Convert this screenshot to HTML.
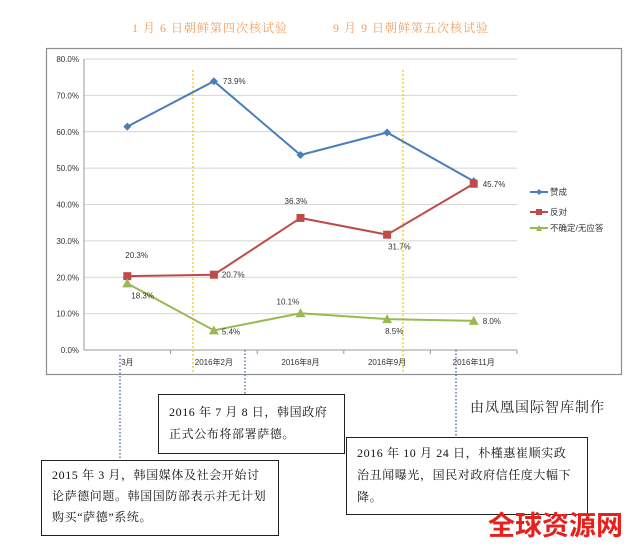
<!DOCTYPE html>
<html><head><meta charset="utf-8"><style>
body{margin:0;background:#fff;}
#wrap{position:relative;width:640px;height:550px;overflow:hidden;font-family:"Liberation Serif","Noto Serif CJK SC",serif;}
.box{position:absolute;border:1px solid #222;background:#fff;font-size:12px;letter-spacing:0.6px;line-height:22px;padding:6px 10px;box-sizing:border-box;color:#111;}
</style></head><body>
<div id="wrap">
<svg id="chart" width="640" height="550" style="position:absolute;left:0;top:0"></svg>
<div class="box" style="left:41px;top:460px;width:238px;height:76px;line-height:21px;padding-top:4px">2015 年 3 月，韩国媒体及社会开始讨论萨德问题。韩国国防部表示并无计划购买“萨德”系统。</div>
<div class="box" style="left:158px;top:394px;width:187px;height:60px;line-height:22px;padding-top:6px">2016 年 7 月 8 日，韩国政府正式公布将部署萨德。</div>
<div class="box" style="left:346px;top:437px;width:242px;height:78px;line-height:22px;padding-top:4px">2016 年 10 月 24 日，朴槿惠崔顺实政治丑闻曝光，国民对政府信任度大幅下降。</div>
<div style="position:absolute;left:470px;top:397px;font-size:14px;letter-spacing:1px;color:#222;white-space:nowrap;">由凤凰国际智库制作</div>
<div style="position:absolute;left:488px;top:506px;font-size:27px;font-weight:bold;color:#e8201c;font-family:'Noto Sans CJK SC',sans-serif;line-height:36px;white-space:nowrap;">全球资源网</div>
</div>
<script>
const categories=["3月","2016年2月","2016年8月","2016年9月","2016年11月"];
const favor=[61.4,73.9,53.6,59.8,46.4];
const oppose=[20.3,20.7,36.3,31.7,45.7];
const unsure=[18.3,5.4,10.1,8.5,8.0];
const yTicks=[0,10,20,30,40,50,60,70,80];
const opposeLabels=["20.3%","20.7%","36.3%","31.7%","45.7%"];
const unsureLabels=["18.3%","5.4%","10.1%","8.5%","8.0%"];
const favorLabels=["","73.9%","","",""];
const NS="http://www.w3.org/2000/svg";
const svg=document.getElementById('chart');
const L=84,R=517,T=59,B=350;
const x=i=>L+(R-L)/categories.length*(i+0.5);
const y=v=>B-(B-T)*v/80;
function mk(t,a,p){const e=document.createElementNS(NS,t);for(const k in a)e.setAttribute(k,a[k]);(p||svg).appendChild(e);return e;}
const frame=mk('rect',{x:46.5,y:48.5,width:575,height:326,fill:'none',stroke:'#8a8f96','stroke-width':1.2});


const t1=mk('text',{x:210,y:32,'text-anchor':'middle','font-size':12,fill:'#f0a060','font-family':'Liberation Serif,Noto Serif CJK SC,serif','letter-spacing':'1'});t1.textContent='1 月 6 日朝鲜第四次核试验';


const t2=mk('text',{x:411,y:32,'text-anchor':'middle','font-size':12,fill:'#f0a060','font-family':'Liberation Serif,Noto Serif CJK SC,serif','letter-spacing':'1'});t2.textContent='9 月 9 日朝鲜第五次核试验';


yTicks.forEach(v=>{
  const g=mk('line',{x1:L,x2:R,y1:y(v),y2:y(v),stroke:v===0?'#999':'#d4d4d4','stroke-width':1});
  
  
  const tl=mk('text',{x:L-5,y:y(v)+3,'text-anchor':'end','font-size':8,fill:'#333','font-family':'Liberation Sans,sans-serif'});tl.textContent=v.toFixed(1)+'%';
  
  
});
const ya=mk('line',{x1:L,x2:L,y1:T,y2:B,stroke:'#999'});


categories.forEach((c,i)=>{
  const tk=mk('line',{x1:L+(R-L)/5*(i+1),x2:L+(R-L)/5*(i+1),y1:B,y2:B+4,stroke:'#999'});
  
  
  const tl=mk('text',{x:x(i),y:B+15,'text-anchor':'middle','font-size':8,fill:'#333','font-family':'Liberation Sans,Noto Sans CJK SC,sans-serif'});tl.textContent=c;
  
  
});
[193,403].forEach(px=>{
  const l=mk('line',{x1:px,x2:px,y1:70,y2:374,stroke:'#f5c518','stroke-width':1.3,'stroke-dasharray':'2,2'});
  
  
});
[[120,355,460],[245,350,394],[456,350,437]].forEach(a=>{
  const l=mk('line',{x1:a[0],x2:a[0],y1:a[1],y2:a[2],stroke:'#2f5a8a','stroke-width':1.2,'stroke-dasharray':'1.5,2'});
  
  
});
function series(vals,color,shape,name){
  const pl=mk('polyline',{points:vals.map((v,i)=>x(i)+','+y(v)).join(' '),fill:'none',stroke:color,'stroke-width':2});
  
  
  vals.forEach((v,i)=>{
    const cx=x(i),cy=y(v);let m;
    if(shape==='d')m=mk('polygon',{points:`${cx},${cy-4} ${cx+4},${cy} ${cx},${cy+4} ${cx-4},${cy}`,fill:color});
    else if(shape==='s')m=mk('rect',{x:cx-4,y:cy-4,width:8,height:8,fill:color});
    else m=mk('polygon',{points:`${cx},${cy-5} ${cx+5},${cy+4} ${cx-5},${cy+4}`,fill:color});
    
    
  });
}
series(favor,'#4a7ebb','d','favor');
series(oppose,'#be4b48','s','oppose');
series(unsure,'#98b954','t','unsure');
function lab(txt,px,py){const t=mk('text',{x:px,y:py,'font-size':8,fill:'#333','font-family':'Liberation Sans,sans-serif'});t.textContent=txt;
  
  }
lab(favorLabels[1],x(1)+9,y(favor[1])+3);
const oOff=[[-2,-18],[8,3],[-16,-14],[1,15],[9,3]];
oppose.forEach((v,i)=>lab(opposeLabels[i],x(i)+oOff[i][0],y(v)+oOff[i][1]));
const uOff=[[4,15],[8,4],[-24,-9],[-2,15],[9,3]];
unsure.forEach((v,i)=>lab(unsureLabels[i],x(i)+uOff[i][0],y(v)+uOff[i][1]));
[['赞成','#4a7ebb','d',192],['反对','#be4b48','s',212],['不确定/无应答','#98b954','t',228]].forEach(e=>{
  const l=mk('line',{x1:530,x2:548,y1:e[3],y2:e[3],stroke:e[1],'stroke-width':2});
  
  
  const cx=539,cy=e[3];
  const m=e[2]==='d'?mk('polygon',{points:`${cx},${cy-3} ${cx+3},${cy} ${cx},${cy+3} ${cx-3},${cy}`,fill:e[1]}):e[2]==='s'?mk('rect',{x:cx-3,y:cy-3,width:6,height:6,fill:e[1]}):mk('polygon',{points:`${cx},${cy-3} ${cx+3},${cy+3} ${cx-3},${cy+3}`,fill:e[1]});
  
  
  const t=mk('text',{x:550,y:e[3]+3,'font-size':8.5,fill:'#333','font-family':'Liberation Sans,Noto Sans CJK SC,sans-serif'});t.textContent=e[0];
  
  
});
</script>
</body></html>
